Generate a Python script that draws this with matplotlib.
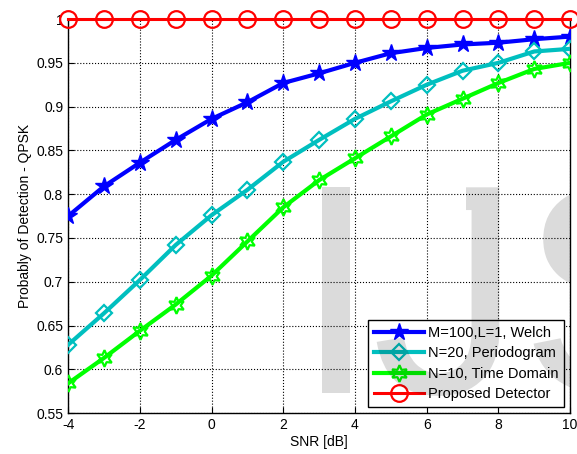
import numpy as np
import matplotlib
matplotlib.use("Agg")
import matplotlib.pyplot as plt
from matplotlib.textpath import TextPath
from matplotlib.patches import PathPatch
from matplotlib.path import Path
from matplotlib.font_manager import FontProperties
from matplotlib.transforms import Affine2D, IdentityTransform

plt.rcParams['font.family'] = ['Liberation Sans', 'DejaVu Sans']
plt.rcParams['axes.unicode_minus'] = False

snr = np.arange(-4, 11)
welch = [0.775, 0.809, 0.836, 0.862, 0.886, 0.905, 0.927, 0.938, 0.950,
         0.961, 0.967, 0.971, 0.973, 0.977, 0.980]
periodogram = [0.628, 0.664, 0.702, 0.742, 0.776, 0.805, 0.837, 0.862, 0.886,
               0.906, 0.925, 0.941, 0.950, 0.963, 0.966]
time_domain = [0.584, 0.613, 0.644, 0.674, 0.707, 0.746, 0.785, 0.816, 0.841,
               0.866, 0.891, 0.909, 0.927, 0.943, 0.950]
proposed = [1.0] * len(snr)

fig = plt.figure(figsize=(5.77, 4.54), dpi=100)
ax = fig.add_axes([0.118, 0.090, 0.870, 0.868])

ax.plot(snr, welch, color='#0000ff', lw=3.0, marker='*', ms=13,
        mec='#0000ff', mfc='#0000ff', label='M=100,L=1, Welch', zorder=3)
ax.plot(snr, periodogram, color='#00bfbf', lw=3.0, marker='D', ms=8.5,
        mec='#00bfbf', mfc='none', mew=1.6, label='N=20, Periodogram', zorder=3)
ax.plot(snr, time_domain, color='#00ff00', lw=3.0, marker=(6, 1, 0), ms=12,
        mec='#00ff00', mfc='none', mew=1.6, label='N=10, Time Domain', zorder=3)
ax.plot(snr, proposed, color='#ff0000', lw=2.2, marker='o', ms=12,
        mec='#ff0000', mfc='none', mew=1.6, label='Proposed Detector',
        zorder=4, clip_on=False)

ax.set_xlim(-4, 10)
ax.set_ylim(0.55, 1.0)
ax.set_xticks(np.arange(-4, 11, 2))
ax.set_yticks(np.arange(0.55, 1.001, 0.05))
ax.set_yticklabels(['0.55', '0.6', '0.65', '0.7', '0.75', '0.8', '0.85',
                    '0.9', '0.95', '1'])
ax.tick_params(direction='in', labelsize=10, length=4)
ax.grid(True, color='black', linestyle=':', linewidth=0.8)
ax.set_axisbelow(True)
for s in ax.spines.values():
    s.set_linewidth(1.0)

ax.set_xlabel('SNR [dB]', fontsize=10, labelpad=2)
ax.set_ylabel('Probably of Detection - QPSK', fontsize=10, labelpad=3)

leg = ax.legend(loc='lower right', fontsize=10.5, fancybox=False,
                framealpha=1, edgecolor='black', handlelength=3.4,
                borderaxespad=0.4, labelspacing=0.45, handletextpad=0.3,
                borderpad=0.4)
leg.get_frame().set_linewidth(1.0)
leg.set_zorder(5)

# watermark letters laid over the plot (pixel coords), clipped to the axes
fp = FontProperties(family='Liberation Sans')
# clip for the J: drop the top bar Liberation Sans adds (Arial has none)
j_clip = Path([(68, 41), (570, 41), (570, 435), (466, 435), (466, 241),
               (68, 241), (68, 41)], closed=True)
for letter, x0 in [("I", 294), ("J", 372), ("S", 520)]:
    tp = TextPath((0, 0), letter, size=1, prop=fp)
    wm = PathPatch(tp, transform=Affine2D().scale(299).translate(x0, 61),
                   facecolor='black', edgecolor='none', alpha=0.14, zorder=6)
    wm.set_clip_box(ax.bbox)
    if letter == "J":
        wm.set_clip_path(j_clip, IdentityTransform())
    fig.add_artist(wm)

fig.savefig('out.png', dpi=100)
